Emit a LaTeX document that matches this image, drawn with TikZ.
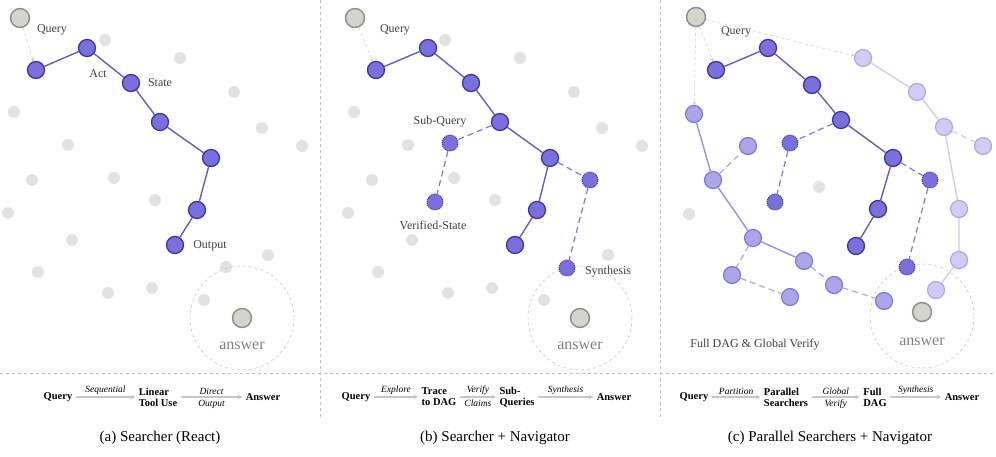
\documentclass[tikz,border=0pt]{standalone}
\usepackage{fontspec}
\setmainfont{Liberation Serif}
\usetikzlibrary{positioning}
\definecolor{dkfill}{RGB}{122,112,220}
\definecolor{dkdraw}{RGB}{62,52,168}
\definecolor{mdfill}{RGB}{172,166,232}
\definecolor{mddraw}{RGB}{128,118,222}
\definecolor{ltfill}{RGB}{208,204,242}
\definecolor{ltdraw}{RGB}{172,166,236}
\definecolor{qfill}{RGB}{212,212,206}
\definecolor{qdraw}{RGB}{140,140,134}
\definecolor{dotgray}{RGB}{226,226,226}
\tikzset{
  dk/.style={circle, minimum size=17pt, inner sep=0pt, fill=dkfill, draw=dkdraw, line width=1.3pt},
  dkd/.style={circle, minimum size=16pt, inner sep=0pt, fill=dkfill, draw=dkdraw, line width=1pt, densely dotted},
  md/.style={circle, minimum size=17pt, inner sep=0pt, fill=mdfill, draw=mddraw, line width=1.2pt},
  lt/.style={circle, minimum size=17pt, inner sep=0pt, fill=ltfill, draw=ltdraw, line width=1.2pt},
  qnode/.style={circle, minimum size=19pt, inner sep=0pt, fill=qfill, draw=qdraw, line width=1.4pt},
  gdot/.style={circle, minimum size=12pt, inner sep=0pt, fill=dotgray},
  dkline/.style={draw=dkdraw!80, line width=1.4pt},
  dkdash/.style={draw=mddraw, line width=1.2pt, dash pattern=on 6pt off 4pt},
  mdline/.style={draw=mddraw!80, line width=1.4pt},
  mddash/.style={draw=mdfill, line width=1.2pt, dash pattern=on 6pt off 4pt},
  ltline/.style={draw=ltfill, line width=1.4pt},
  ltdash/.style={draw=ltfill, line width=1.2pt, dash pattern=on 6pt off 4pt},
  qarrow/.style={draw=gray!50, dashed, -stealth},
  lbl/.style={font=\fontsize{12}{12}\selectfont, text=black!75},
  ansring/.style={circle, minimum size=104pt, draw=gray!60, dashed},
  flow/.style={font=\fontsize{10.5}{11}\selectfont\bfseries, align=left},
  flowarr/.style={draw=gray!45, line width=1.1pt, -stealth},
  fi/.style={font=\fontsize{9.5}{10}\selectfont\itshape}
}
\begin{document}
\begin{tikzpicture}[x=1pt,y=-1pt]
\useasboundingbox (0,0) rectangle (996,457);
% separators
\draw[gray!50, dashed] (0,373) -- (996,373);
\draw[gray!50, dashed] (320,0) -- (320,418);
\draw[gray!50, dashed] (660,0) -- (660,418);

% ---- panel (a)
\foreach \x/\y [count=\i] in {105/40,180/58,234/92,14/112,68/145,262/128,302/146,32/180,114/178,155/200,8/213,72/240,38/272,226/267,108/293,152/288,204/300,268/255}
  \node[gdot] (a-g\i) at (\x,\y) {};
\node[ansring] (a-ring) at (242,318) {};
\node[qnode] (a-ans) at (242,318) {};
\node[lbl, font=\fontsize{16}{16}\selectfont, text=gray] (a-anslbl) at (242,346) {answer};
\node[qnode] (a-q) at (20,18) {};
\foreach \x/\y [count=\i] in {36/70,87/48,131/83,160/122,211/158,197/210,175/245}
  \node[dk] (a-\i) at (\x,\y) {};
\draw[dkline] (a-1) -- (a-2) -- (a-3) -- (a-4) -- (a-5) -- (a-6) -- (a-7);
\draw[qarrow] (a-q) -- (a-1);
\node[lbl] (a-ql) at (52,30) {Query};
\node[lbl] (a-act) at (98,74) {Act};
\node[lbl] (a-st) at (160,83) {State};
\node[lbl] (a-out) at (210,246) {Output};

% ---- panel (b)
\foreach \x/\y [count=\i] in {445/40,520/58,574/92,354/112,408/145,602/128,642/146,372/180,454/178,495/200,348/213,412/240,378/272,566/267,448/293,492/288,544/300,608/255}
  \node[gdot] (b-g\i) at (\x,\y) {};
\node[ansring] (b-ring) at (580,318) {};
\node[qnode] (b-ans) at (580,318) {};
\node[lbl, font=\fontsize{16}{16}\selectfont, text=gray] (b-anslbl) at (580,346) {answer};
\node[qnode] (b-q) at (355,18) {};
\foreach \x/\y [count=\i] in {376/70,428/48,471/83,500/122,550/158,537/210,515/245}
  \node[dk] (b-\i) at (\x,\y) {};
\node[dkd] (b-s1) at (450,143) {};
\node[dkd] (b-s2) at (435,202) {};
\node[dkd] (b-s3) at (590,180) {};
\node[dkd] (b-s4) at (567,268) {};
\draw[dkline] (b-1) -- (b-2) -- (b-3) -- (b-4) -- (b-5) -- (b-6) -- (b-7);
\draw[dkdash] (b-4) -- (b-s1) -- (b-s2);
\draw[dkdash] (b-5) -- (b-s3) -- (b-s4);
\draw[qarrow] (b-q) -- (b-1);
\node[lbl] (b-ql) at (395,30) {Query};
\node[lbl] (b-sq) at (440,122) {Sub-Query};
\node[lbl] (b-vs) at (433,225) {Verified-State};
\node[lbl] (b-sy) at (608,272) {Synthesis};

% ---- panel (c)
\node[gdot] (c-g1) at (819,187) {};
\node[gdot] (c-g2) at (689,214) {};
\node[ansring] (c-ring) at (922,316) {};
\node[qnode] (c-ans) at (922,312) {};
\node[lbl, font=\fontsize{16}{16}\selectfont, text=gray] (c-anslbl) at (922,342) {answer};
\node[qnode] (c-q) at (696,17) {};
\foreach \x/\y [count=\i] in {863/58,917/92,944/127,983/146,959/209,959/260,936/290}
  \node[lt] (c-l\i) at (\x,\y) {};
\foreach \x/\y [count=\i] in {694/114,748/146,713/180,753/238,804/261,834/285,884/301,732/275,790/297}
  \node[md] (c-m\i) at (\x,\y) {};
\foreach \x/\y [count=\i] in {716/70,768/48,812/85,841/120,893/158,878/209,856/246}
  \node[dk] (c-\i) at (\x,\y) {};
\node[dkd] (c-s1) at (790,143) {};
\node[dkd] (c-s2) at (775,202) {};
\node[dkd] (c-s3) at (930,180) {};
\node[dkd] (c-s4) at (907,267) {};
\begin{scope}[on background layer/.style={}]
\draw[ltline] (c-l1) -- (c-l2) -- (c-l3) -- (c-l5) -- (c-l6) -- (c-l7);
\draw[ltdash] (c-l3) -- (c-l4);
\draw[mdline] (c-m1) -- (c-m3) -- (c-m4) -- (c-m5);
\draw[mddash] (c-m3) -- (c-m2);
\draw[mddash] (c-m4) -- (c-m8) -- (c-m9);
\draw[mddash] (c-m5) -- (c-m6) -- (c-m7);
\draw[dkline] (c-1) -- (c-2) -- (c-3) -- (c-4) -- (c-5) -- (c-6) -- (c-7);
\draw[dkdash] (c-4) -- (c-s1) -- (c-s2);
\draw[dkdash] (c-5) -- (c-s3) -- (c-s4);
\end{scope}
\draw[qarrow] (c-q) -- (c-1);
\draw[qarrow] (c-q) -- (c-m1);
\draw[qarrow] (c-q) -- (c-l1);
\node[lbl] (c-ql) at (736,32) {Query};
\node[lbl] (c-full) at (755,345) {Full DAG \& Global Verify};

% ---- flow rows
\node[flow] (fa1) at (58,397) {Query};
\node[flow] (fa2) at (158,397) {Linear\\Tool Use};
\node[flow] (fa3) at (263,397) {Answer};
\draw[flowarr] (fa1) -- node[fi, above=-1pt] {Sequential} (fa2);
\draw[flowarr] (fa2) -- node[fi, above=-1pt] {Direct} node[fi, below=-1pt] {Output} (fa3);

\node[flow] (fb1) at (356,397) {Query};
\node[flow] (fb2) at (439,397) {Trace\\to DAG};
\node[flow] (fb3) at (517,397) {Sub-\\Queries};
\node[flow] (fb4) at (614,397) {Answer};
\draw[flowarr] (fb1) -- node[fi, above=-1pt] {Explore} (fb2);
\draw[flowarr] (fb2) -- node[fi, above=-1pt] {Verify} node[fi, below=-1pt] {Claims} (fb3);
\draw[flowarr] (fb3) -- node[fi, above=-1pt] {Synthesis} (fb4);

\node[flow] (fc1) at (694,397) {Query};
\node[flow] (fc2) at (786,397) {Parallel\\Searchers};
\node[flow] (fc3) at (875,397) {Full\\DAG};
\node[flow] (fc4) at (962,397) {Answer};
\draw[flowarr] (fc1) -- node[fi, above=-1pt] {Partition} (fc2);
\draw[flowarr] (fc2) -- node[fi, above=-1pt] {Global} node[fi, below=-1pt] {Verify} (fc3);
\draw[flowarr] (fc3) -- node[fi, above=-1pt] {Synthesis} (fc4);

% ---- captions
\node[font=\fontsize{15}{15}\selectfont] (capa) at (160,438) {(a) Searcher (React)};
\node[font=\fontsize{15}{15}\selectfont] (capb) at (495,438) {(b) Searcher + Navigator};
\node[font=\fontsize{15}{15}\selectfont] (capc) at (830,438) {(c) Parallel Searchers + Navigator};
\end{tikzpicture}
\end{document}
